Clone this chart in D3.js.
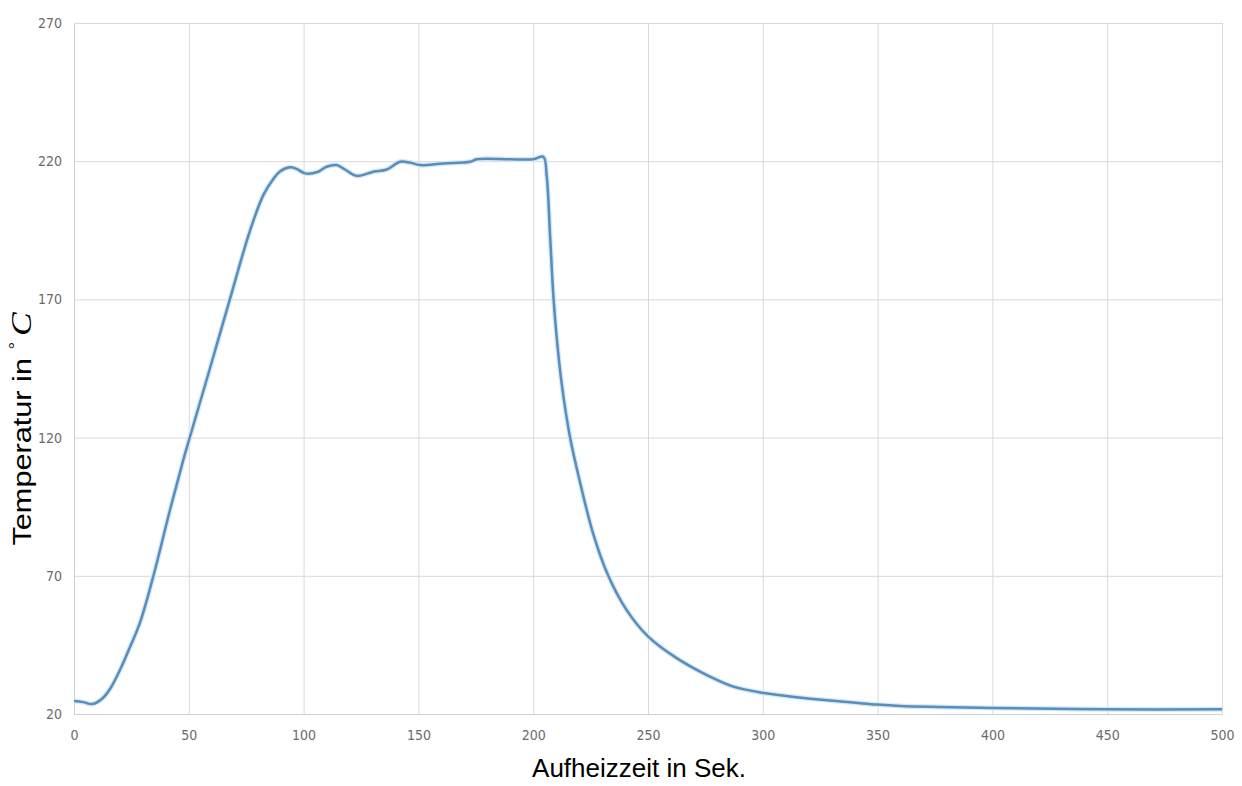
<!DOCTYPE html>
<html lang="de">
<head>
<meta charset="UTF-8">
<title>Aufheizkurve</title>
<script src="https://cdn.jsdelivr.net/npm/d3@7"></script>
<style>
  body { margin: 0; background: #fff; }
  svg { display: block; }
</style>
</head>
<body>
<div id="chart"></div>
<script>
// values
var zeit = [0, 4, 8, 12.6, 16, 20, 24, 28.7, 34.5, 41.8, 47.6, 50.5, 59.2, 68, 76.7, 82.5, 86.8, 89.7,
  94, 97, 100.6, 106.4, 110, 114.4, 118, 123, 130.4, 136.2, 142, 146.3, 150.7, 160.8, 172.5, 175.4,
  189.9, 200, 204.4, 205.9, 207.3, 208.8, 210.2, 212.4, 216, 220.4, 226.2, 232.7, 240.7, 250.1,
  262.5, 277, 287.2, 299.5, 314.5, 330.7, 349.6, 359.8, 400, 449.3, 500];
var temp = [24.7, 24.3, 23.6, 25.8, 29.5, 35.9, 43.5, 53, 69.7, 93.8, 111.9, 120.3, 145, 170.4, 195, 207.8, 213.6, 216.3,
  217.8, 217.2, 215.6, 216.2, 218, 218.6, 217, 214.7, 216.2, 217, 219.8, 219.5, 218.6, 219.2, 219.8, 220.7,
  220.7, 220.7, 221.6, 214.4, 193.9, 171, 156.5, 139.6, 120.3, 103.8, 85, 70, 57.6, 48,
  40.2, 33.5, 29.9, 27.7, 26.1, 24.8, 23.4, 22.9, 22.2, 21.7, 21.7];

var xTicks = [0, 50, 100, 150, 200, 250, 300, 350, 400, 450, 500];
var yTicks = [20, 70, 120, 170, 220, 270];

var width = 1242, height = 786;
var margin = {top: 23, right: 20, bottom: 72, left: 74};

var svg = d3.select("#chart").append("svg")
  .attr("width", width)
  .attr("height", height);

var x = d3.scaleLinear().domain([0, 500]).range([margin.left, width - margin.right]);
var y = d3.scaleLinear().domain([20, 270]).range([height - margin.bottom, margin.top]);

// grid
svg.append("g")
  .attr("transform", "translate(0," + (height - margin.bottom) + ")")
  .call(d3.axisBottom(x).tickValues(xTicks).tickSize(-(height - margin.top - margin.bottom)).tickFormat(""))
  .call(function(g) { g.select(".domain").remove(); })
  .selectAll("line").attr("stroke", "#d9d9d9");

svg.append("g")
  .attr("transform", "translate(" + margin.left + ",0)")
  .call(d3.axisLeft(y).tickValues(yTicks).tickSize(-(width - margin.left - margin.right)).tickFormat(""))
  .call(function(g) { g.select(".domain").remove(); })
  .selectAll("line").attr("stroke", "#d9d9d9");

// tick labels
svg.append("g")
  .attr("transform", "translate(0," + (height - margin.bottom) + ")")
  .call(d3.axisBottom(x).tickValues(xTicks).tickSize(0).tickPadding(16))
  .call(function(g) { g.select(".domain").attr("stroke", "#d0d0d0"); })
  .selectAll("text")
    .attr("font-family", "'Liberation Sans Narrow', 'DejaVu Sans Condensed', sans-serif")
    .attr("font-size", 14)
    .attr("fill", "#6b6b6b");

svg.append("g")
  .attr("transform", "translate(" + margin.left + ",0)")
  .call(d3.axisLeft(y).tickValues(yTicks).tickSize(0).tickPadding(12))
  .call(function(g) { g.select(".domain").attr("stroke", "#d0d0d0"); })
  .selectAll("text")
    .attr("font-family", "'Liberation Sans Narrow', 'DejaVu Sans Condensed', sans-serif")
    .attr("font-size", 14)
    .attr("fill", "#6b6b6b");

// curve
var pts = zeit.map(function(t, i) { return [t, temp[i]]; });
var line = d3.line()
  .x(function(d) { return x(d[0]); })
  .y(function(d) { return y(d[1]); })
  .curve(d3.curveCatmullRom.alpha(0.5));

svg.append("path")
  .datum(pts)
  .attr("fill", "none")
  .attr("stroke", "#d4e9f8")
  .attr("stroke-width", 5)
  .attr("d", line);

svg.append("path")
  .datum(pts)
  .attr("fill", "none")
  .attr("stroke", "#5b8cba")
  .attr("stroke-width", 2.5)
  .attr("d", line);

// axis titles
svg.append("text")
  .attr("x", 639)
  .attr("y", 777)
  .attr("text-anchor", "middle")
  .attr("font-family", "'Liberation Sans', Arial, sans-serif")
  .attr("font-size", 26)
  .attr("fill", "#000")
  .text("Aufheizzeit in Sek.");

// rotated title, stretched along its length like the reference
var yt = svg.append("text")
  .attr("transform", "translate(31,429) rotate(-90) scale(1.18,1)")
  .attr("text-anchor", "middle")
  .attr("font-family", "'Liberation Sans', Arial, sans-serif")
  .attr("font-size", 26)
  .attr("fill", "#000");
yt.append("tspan").text("Temperatur in ");
yt.append("tspan").attr("font-size", 16).attr("dy", -10).text("\u00b0");
yt.append("tspan")
  .attr("dy", 10)
  .attr("dx", 5)
  .attr("font-family", "'Liberation Serif', 'DejaVu Serif', serif")
  .attr("font-style", "italic")
  .attr("font-size", 30)
  .text("C");
</script>
</body>
</html>
